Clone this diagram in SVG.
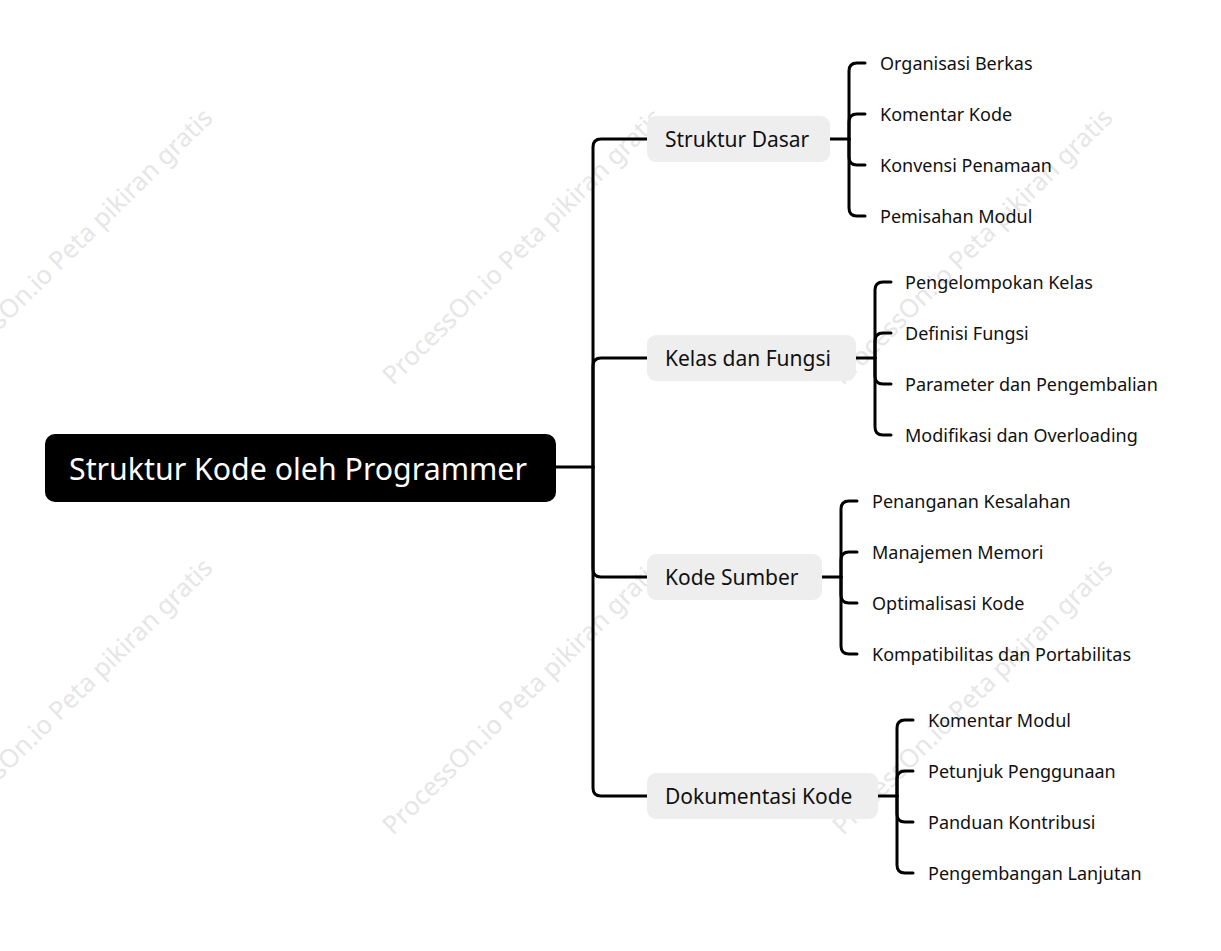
<svg xmlns="http://www.w3.org/2000/svg" width="1221" height="951" viewBox="0 0 1221 951">
<style>
.wm{font-family:"Noto Sans","Liberation Sans",sans-serif;font-size:25.5px;fill:#e6e6e6}
.root{font-family:"Noto Sans","Liberation Sans",sans-serif;font-size:30.3px;fill:#fff}
.l1{font-family:"Noto Sans","Liberation Sans",sans-serif;font-size:21px;fill:#111}
.l2{font-family:"Noto Sans","Liberation Sans",sans-serif;font-size:18px;fill:#111}
.c{fill:none;stroke:#000;stroke-width:3;stroke-linecap:round;stroke-linejoin:round}
.b1{fill:#eeeeee}
</style>
<rect width="1221" height="951" fill="#fff"/>
<g id="watermarks">
<text class="wm" transform="translate(-57,386) rotate(-44.5)">ProcessOn.io Peta pikiran gratis</text>
<text class="wm" transform="translate(393,386) rotate(-44.5)">ProcessOn.io Peta pikiran gratis</text>
<text class="wm" transform="translate(843,386) rotate(-44.5)">ProcessOn.io Peta pikiran gratis</text>
<text class="wm" transform="translate(-57,836) rotate(-44.5)">ProcessOn.io Peta pikiran gratis</text>
<text class="wm" transform="translate(393,836) rotate(-44.5)">ProcessOn.io Peta pikiran gratis</text>
<text class="wm" transform="translate(843,836) rotate(-44.5)">ProcessOn.io Peta pikiran gratis</text>
</g>
<g id="connectors">
<path class="c" d="M556,467 H593"/>
<path class="c" d="M593,467 V147 Q593,139 601,139 H647"/>
<path class="c" d="M593,467 V366 Q593,358 601,358 H647"/>
<path class="c" d="M593,467 V569 Q593,577 601,577 H647"/>
<path class="c" d="M593,467 V788 Q593,796 601,796 H647"/>
<path class="c" d="M830,139 H849"/>
<path class="c" d="M849,139 V71 Q849,63 857,63 H865"/>
<path class="c" d="M849,139 V122 Q849,114 857,114 H865"/>
<path class="c" d="M849,139 V157 Q849,165 857,165 H865"/>
<path class="c" d="M849,139 V208 Q849,216 857,216 H865"/>
<path class="c" d="M856,358 H875"/>
<path class="c" d="M875,358 V290 Q875,282 883,282 H891"/>
<path class="c" d="M875,358 V341 Q875,333 883,333 H891"/>
<path class="c" d="M875,358 V376 Q875,384 883,384 H891"/>
<path class="c" d="M875,358 V427 Q875,435 883,435 H891"/>
<path class="c" d="M822,577 H841"/>
<path class="c" d="M841,577 V509 Q841,501 849,501 H857"/>
<path class="c" d="M841,577 V560 Q841,552 849,552 H857"/>
<path class="c" d="M841,577 V595 Q841,603 849,603 H857"/>
<path class="c" d="M841,577 V646 Q841,654 849,654 H857"/>
<path class="c" d="M878,796 H897"/>
<path class="c" d="M897,796 V728 Q897,720 905,720 H913"/>
<path class="c" d="M897,796 V779 Q897,771 905,771 H913"/>
<path class="c" d="M897,796 V814 Q897,822 905,822 H913"/>
<path class="c" d="M897,796 V865 Q897,873 905,873 H913"/>
</g>
<g id="root">
<rect x="45" y="434" width="511" height="68" rx="10" fill="#000"/>
<text class="root" x="69" y="480">Struktur Kode oleh Programmer</text>
</g>
<g id="n1">
<rect class="b1" x="647" y="116" width="183" height="46" rx="9"/>
<text class="l1" x="665" y="147">Struktur Dasar</text>
</g>
<g id="n2">
<rect class="b1" x="647" y="335" width="209" height="46" rx="9"/>
<text class="l1" x="665" y="366">Kelas dan Fungsi</text>
</g>
<g id="n3">
<rect class="b1" x="647" y="554" width="175" height="46" rx="9"/>
<text class="l1" x="665" y="585">Kode Sumber</text>
</g>
<g id="n4">
<rect class="b1" x="647" y="773" width="231" height="46" rx="9"/>
<text class="l1" x="665" y="804">Dokumentasi Kode</text>
</g>
<g id="n1-leaves">
<text class="l2" x="880" y="70">Organisasi Berkas</text>
<text class="l2" x="880" y="121">Komentar Kode</text>
<text class="l2" x="880" y="172">Konvensi Penamaan</text>
<text class="l2" x="880" y="223">Pemisahan Modul</text>
</g>
<g id="n2-leaves">
<text class="l2" x="905" y="289">Pengelompokan Kelas</text>
<text class="l2" x="905" y="340">Definisi Fungsi</text>
<text class="l2" x="905" y="391">Parameter dan Pengembalian</text>
<text class="l2" x="905" y="442">Modifikasi dan Overloading</text>
</g>
<g id="n3-leaves">
<text class="l2" x="872" y="508">Penanganan Kesalahan</text>
<text class="l2" x="872" y="559">Manajemen Memori</text>
<text class="l2" x="872" y="610">Optimalisasi Kode</text>
<text class="l2" x="872" y="661">Kompatibilitas dan Portabilitas</text>
</g>
<g id="n4-leaves">
<text class="l2" x="928" y="727">Komentar Modul</text>
<text class="l2" x="928" y="778">Petunjuk Penggunaan</text>
<text class="l2" x="928" y="829">Panduan Kontribusi</text>
<text class="l2" x="928" y="880">Pengembangan Lanjutan</text>
</g>
</svg>
